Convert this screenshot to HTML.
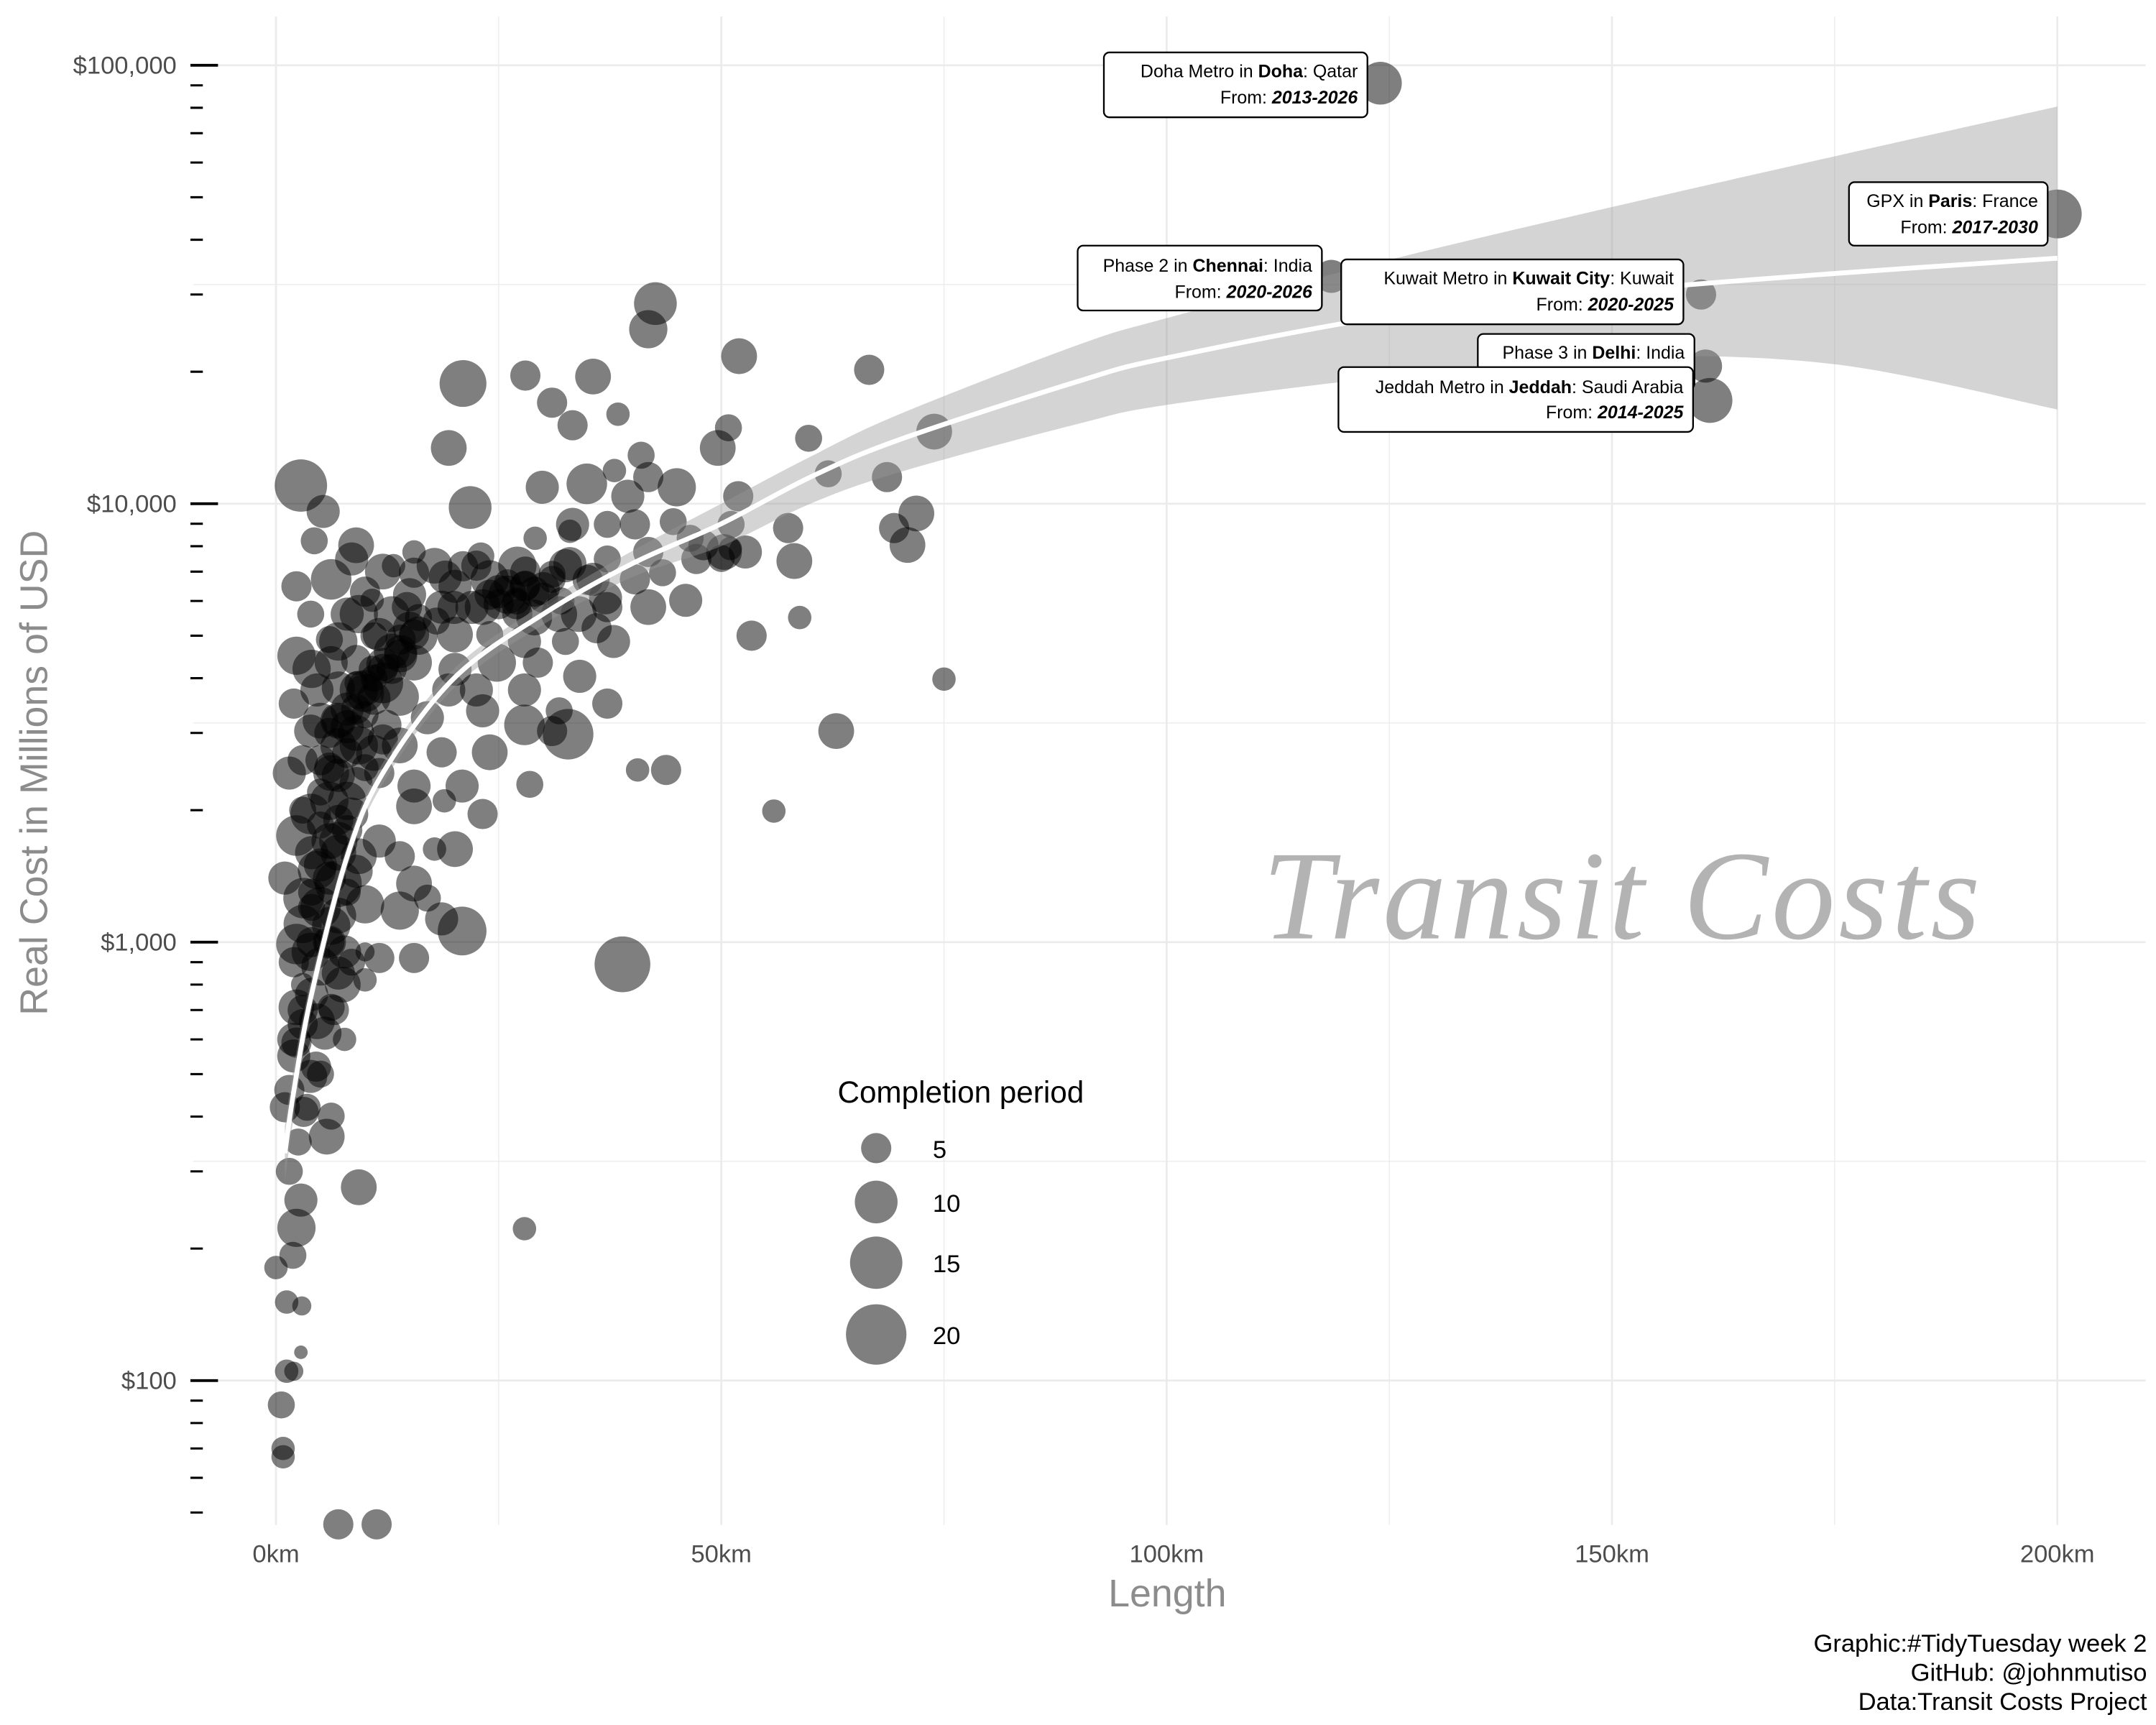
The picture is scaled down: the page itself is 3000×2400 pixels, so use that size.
<!DOCTYPE html>
<html><head><meta charset="utf-8"><style>
html,body{margin:0;padding:0;background:#fff;}
svg{display:block;font-family:"Liberation Sans",sans-serif;}
</style></head><body>
<svg id="chart" width="3000" height="2400" viewBox="0 0 1562.5 1250" xmlns="http://www.w3.org/2000/svg">
<rect width="1562.5" height="1250" fill="#fff"/>
<g id="grid"></g>
<g id="points"></g>
<g id="smooth"></g>
<g id="axes"></g>
<g id="labels">
  <g>
    <rect x="800" y="38" width="191" height="47" rx="4" fill="#fff" stroke="#000" stroke-width="1.2"/>
    <text x="984" y="56" text-anchor="end" font-size="13">Doha Metro in <tspan font-weight="bold">Doha</tspan>: Qatar</text>
    <text x="984" y="75" text-anchor="end" font-size="13">From: <tspan font-weight="bold" font-style="italic">2013-2026</tspan></text>
  </g>
  <g>
    <rect x="1340" y="132" width="144" height="46" rx="4" fill="#fff" stroke="#000" stroke-width="1.2"/>
    <text x="1477" y="150" text-anchor="end" font-size="13">GPX in <tspan font-weight="bold">Paris</tspan>: France</text>
    <text x="1477" y="169" text-anchor="end" font-size="13">From: <tspan font-weight="bold" font-style="italic">2017-2030</tspan></text>
  </g>
  <g>
    <rect x="781" y="178" width="177" height="47" rx="4" fill="#fff" stroke="#000" stroke-width="1.2"/>
    <text x="951" y="197" text-anchor="end" font-size="13">Phase 2 in <tspan font-weight="bold">Chennai</tspan>: India</text>
    <text x="951" y="216" text-anchor="end" font-size="13">From: <tspan font-weight="bold" font-style="italic">2020-2026</tspan></text>
  </g>
  <g>
    <rect x="972" y="188" width="248" height="47" rx="4" fill="#fff" stroke="#000" stroke-width="1.2"/>
    <text x="1213" y="206" text-anchor="end" font-size="13">Kuwait Metro in <tspan font-weight="bold">Kuwait City</tspan>: Kuwait</text>
    <text x="1213" y="225" text-anchor="end" font-size="13">From: <tspan font-weight="bold" font-style="italic">2020-2025</tspan></text>
  </g>
  <g>
    <rect x="1071" y="242" width="157" height="40" rx="4" fill="#fff" stroke="#000" stroke-width="1.2"/>
    <text x="1221" y="260" text-anchor="end" font-size="13">Phase 3 in <tspan font-weight="bold">Delhi</tspan>: India</text>
  </g>
  <g>
    <rect x="970" y="266" width="257" height="47" rx="4" fill="#fff" stroke="#000" stroke-width="1.2"/>
    <text x="1220" y="285" text-anchor="end" font-size="13">Jeddah Metro in <tspan font-weight="bold">Jeddah</tspan>: Saudi Arabia</text>
    <text x="1220" y="303" text-anchor="end" font-size="13">From: <tspan font-weight="bold" font-style="italic">2014-2025</tspan></text>
  </g>
</g>
<text x="1175" y="680" text-anchor="middle" font-family="'Liberation Serif',serif" font-style="italic" font-size="92" fill="#b3b3b3" textLength="520">Transit Costs</text>
<g id="legend">
  <text x="607" y="799" font-size="22" fill="#000">Completion period</text>
</g>
<text x="846" y="1164" text-anchor="middle" font-size="28" fill="#8c8c8c">Length</text>
<text x="0" y="0" transform="translate(34,560) rotate(-90)" text-anchor="middle" font-size="28" fill="#8c8c8c">Real Cost in Millions of USD</text>
<g font-size="18" fill="#000" text-anchor="end">
  <text x="1556" y="1197">Graphic:#TidyTuesday week 2</text>
  <text x="1556" y="1218">GitHub: @johnmutiso</text>
  <text x="1556" y="1239">Data:Transit Costs Project</text>
</g>
</svg>
<script>
// data: length (km), real cost (M USD), completion period (years)
const lengths = [124,200,118.5,160,160.5,161,42.6,41.8,52,66.6,21,28,35.6,31,38.4,33.3,50.8,59.8,73.9,19.4,49.6,62,68.6,2.8,5.3,21.8,29.9,34.9,45,51.9,71.9,69.4,70.9,57.5,58.2,58.8,53.4,75,62.9,55.9,40.6,43.8,38.9,27.9,32.8,28.5,20.9,9.3,0.6,0.8,0.8,1.2,2,2.8,2.9,1.2,0,1.9,7,11.3,2.3,2.8,5.7,6.2,3.1,3.9,1.5,2.3,7.7,4.6,6.2,2.3,7,3.9,10,7.7,2.3,10,6.2,15.5,11.6,18.6,13.9,17,3.1,7,10,4.6,15.5,9.3,2.3,7,11.6,13.9,20.1,17.8,3.9,8.5,15.5,23.2,18.9,1.5,6.2,11.6,15.5,20.9,9.3,3.9,13.9,18.6,24,7,12.4,17,23.2,27.9,31,4.6,9.3,13.9,19.4,22.5,27.9,31.8,37.2,6.2,10.8,15.5,20.1,24.8,29.4,34.1,2.3,7,11.6,15.5,20.1,24,27.9,32.5,37.9,3.9,9.3,14.7,18.6,23.2,27.1,31.8,37.2,41.8,46,2.3,10.8,6.2,15.5,20.1,24,27.9,31,35.6,40.3,43.4,8.5,13.2,17.8,22.5,27.1,32.5,37.2,41.8,47.2,50.3,52.7,9,15.5,37.2,40.3,44.6,29.1,33.3,48,51.1,39.5,41,38,41.8,4.3,46.5,33,50,51,26,27,28,25,29,30,
 1.5,2.5,3.5,4.5,5.5,6.5,7.5,8.5,2,3,4,5,6,7,8,9,1,2,3,4,5,6,7,8,3,4,5,6,7,8,9,10,11,12,4,5,6,7,8,9,10,11,12,13,14,5,6,7,8,9,10,11,12,13,14,15,16,6,8,10,12,14,16,18,20,3,5,7,9,11,13,15,2,4,6,8,10,12,1,3,5,7,9,2,4,6,3,5,22,24,26,28,30,32,34,36,19,21,23,25,27,29,31,33,35,37];
const costs = [91000,45800,33000,30000,20600,17200,28600,25000,21700,20200,18800,19600,19500,17000,16000,15100,14900,14100,14600,13400,13400,11700,11500,11000,9600,9800,10900,11100,10900,10400,9500,8800,8050,8800,7400,5500,5000,3980,3030,1990,2470,2470,890,222,2980,2290,1060,276,88,70,67,105,105,116,148,151,181,193,47,47,223,258,360,401,410,494,460,590,600,660,710,710,850,950,820,950,990,950,1090,920,920,1130,1180,1260,1260,1360,1220,1460,1360,1570,1750,1700,1700,1570,1630,1630,1960,1960,2040,1960,2100,2430,2430,2430,2270,2270,2810,3030,2810,2710,2710,3200,3130,3250,3370,3130,3030,3760,3760,3630,3760,3760,3760,3370,3500,4340,4190,4340,4190,4340,4340,4040,4500,4850,5030,5030,5030,5030,4850,4850,4850,5600,5600,5810,5810,5810,5600,5600,5810,5810,6020,6480,6020,6720,6960,6480,6720,6480,6720,6720,6720,6960,7480,7220,7220,7220,7220,7220,7480,7760,7480,7760,7760,8040,7760,8970,8970,9100,8340,8970,8040,8970,10400,12900,11900,11500,8230,8340,8650,7500,7900,6200,6000,6500,5900,6300,6100,
 300,350,420,520,620,700,800,900,550,650,760,880,1000,1150,1300,1450,420,600,800,1000,1200,1400,1600,1800,1100,1300,1500,1700,1900,2100,2300,2500,2700,2900,1600,1850,2100,2400,2700,3000,3300,3600,3900,4200,4500,2200,2500,2800,3100,3400,3700,4000,4300,4600,4900,5200,5500,3000,3400,3800,4200,4600,5000,5400,5800,2600,3200,3800,4400,5000,5600,6200,3500,4200,4900,5600,6300,7000,1400,2000,2600,3200,3900,900,1200,1000,700,500,5800,6200,6600,7000,6400,6000,5600,5200,6800,7200,7600,6300,5900,5500,6900,7300,6700,6100];
const periods = [10,13,6,5,6,11,10,8,7,5,12,5,7,5,3,5,4,4,7,7,7,4,5,15,6,10,6,9,8,5,7,5,7,5,7,3,5,3,7,3,3,5,17,3,14,4,13,7,4,3,3,3,2,1,2,3,3,4,5,5,8,6,7,4,5,6,5,5,3,7,4,7,6,8,3,6,9,2,8,5,5,6,8,4,9,12,8,8,7,7,9,8,6,5,7,3,9,6,7,5,3,6,7,5,6,6,8,6,7,5,7,7,5,6,6,9,5,6,8,8,6,6,6,4,5,6,4,7,6,8,5,6,8,8,6,5,7,4,6,4,6,4,8,5,6,7,5,7,5,7,6,5,3,9,5,6,8,5,4,6,5,4,6,3,7,5,8,6,4,5,5,7,6,7,3,4,5,4,3,6,5,4,6,4,3,5,4,4,3,4,3,8,4,5,5,5,5,4,4,
 4,5,6,5,7,4,6,5,6,8,5,7,4,6,5,6,3,5,9,6,7,5,8,4,6,7,5,8,6,4,7,5,6,4,8,6,5,7,4,6,9,5,6,4,5,7,6,5,8,4,6,7,5,6,4,5,6,7,5,6,8,4,6,5,7,6,5,4,7,6,5,8,4,6,5,7,6,4,5,6,3,5,4,6,5,4,6,5,4,5,6,4,7,5,6,5,4,6,5,7,4,6,5,6,4,5,4];
// smooth fit and confidence ribbon
const fitKm = [1,2,4,8,12,20,30,40,50,60,70,90,100,125,150,175,200];
const fitCost = [330,457,762,1570,2430,4000,5600,7300,9000,11500,14000,19000,21500,26800,30500,33500,36300];
const hiCost = [380,520,830,1660,2560,4200,5900,7800,10000,12800,16000,23000,26500,36000,47500,62000,80500];
const loCost = [285,400,700,1480,2300,3800,5300,6800,8000,10000,11800,15200,16800,19500,21600,20800,16400];
// axes
const xTicks = [0,50,100,150,200];
const xTickLabels = ["0km","50km","100km","150km","200km"];
const xMinor = [25,75,125,175];
const yTicks = [100,1000,10000,100000];
const yTickLabels = ["$100","$1,000","$10,000","$100,000"];
const yMinor = [316.2,3162,31623];
const legendVals = [5,10,15,20];
const legendY = [832,871,915,967];

const NS = "http://www.w3.org/2000/svg";
const X = km => 200 + km * 6.455;
const Y = c => 365 - (Math.log10(c) - 4) * 317.7;
const R = p => 4.9 * Math.sqrt(p);
const PL = 140, PR = 1555, PT = 12, PB = 1105;
function mk(tag, attrs, parent) {
  const e = document.createElementNS(NS, tag);
  for (const k in attrs) e.setAttribute(k, attrs[k]);
  parent.appendChild(e);
  return e;
}
function smoothPath(p, start) {
  let d = (start ? 'M' : 'L') + p[0][0] + ',' + p[0][1];
  for (let i = 0; i < p.length - 1; i++) {
    const p0 = p[Math.max(0, i - 1)], p1 = p[i], p2 = p[i + 1], p3 = p[Math.min(p.length - 1, i + 2)];
    const c1x = p1[0] + (p2[0] - p0[0]) / 6, c1y = p1[1] + (p2[1] - p0[1]) / 6;
    const c2x = p2[0] - (p3[0] - p1[0]) / 6, c2y = p2[1] - (p3[1] - p1[1]) / 6;
    d += 'C' + c1x + ',' + c1y + ' ' + c2x + ',' + c2y + ' ' + p2[0] + ',' + p2[1];
  }
  return d;
}
const grid = document.getElementById('grid');
xMinor.forEach(v => { const l = mk('line', {x1:X(v),x2:X(v),y1:PT,y2:PB,stroke:'#ebebeb','stroke-width':0.7}, grid);
  
   });
yMinor.forEach(v => { const l = mk('line', {x1:PL,x2:PR,y1:Y(v),y2:Y(v),stroke:'#ebebeb','stroke-width':0.7}, grid);
  
   });
xTicks.forEach(v => { const l = mk('line', {x1:X(v),x2:X(v),y1:PT,y2:PB,stroke:'#ebebeb','stroke-width':1.4}, grid);
  
   });
yTicks.forEach(v => { const l = mk('line', {x1:PL,x2:PR,y1:Y(v),y2:Y(v),stroke:'#ebebeb','stroke-width':1.4}, grid);
  
   });

const pts = document.getElementById('points');
for (let i = 0; i < lengths.length; i++) {
  const c = mk('circle', {cx:X(lengths[i]), cy:Y(costs[i]), r:R(periods[i]), fill:'#000', 'fill-opacity':0.5}, pts);
  
  
}

const sm = document.getElementById('smooth');
const hiPts = fitKm.map((k, i) => [X(k), Y(hiCost[i])]);
const loPts = fitKm.map((k, i) => [X(k), Y(loCost[i])]).reverse();
const rib = mk('path', {d: smoothPath(hiPts, true) + smoothPath(loPts, false) + 'Z', fill:'#999', 'fill-opacity':0.42}, sm);


const fitPts = fitKm.map((k, i) => [X(k), Y(fitCost[i])]);
const fl = mk('path', {d: smoothPath(fitPts, true), fill:'none', stroke:'#fff', 'stroke-width':3.5, 'stroke-linejoin':'round'}, sm);



const ax = document.getElementById('axes');
xTicks.forEach((v, i) => { const t = mk('text', {x:X(v), y:1132, 'text-anchor':'middle', 'font-size':18, fill:'#4d4d4d'}, ax);
  t.textContent = xTickLabels[i];
  
   });
yTicks.forEach((v, i) => { const t = mk('text', {x:128, y:Y(v)+6, 'text-anchor':'end', 'font-size':18, fill:'#4d4d4d'}, ax);
  t.textContent = yTickLabels[i];
  
  
  const l = mk('line', {x1:138, x2:158, y1:Y(v), y2:Y(v), stroke:'#000', 'stroke-width':2}, ax);
  
   });
[10,100,1000,10000].forEach(dec => { for (let m = 2; m <= 9; m++) { const v = dec * m;
  if (v < 50) continue;
  const l = mk('line', {x1:138, x2:147, y1:Y(v), y2:Y(v), stroke:'#000', 'stroke-width':1.6}, ax);
  
   } });

const lg = document.getElementById('legend');
legendVals.forEach((v, i) => {
  const c = mk('circle', {cx:635, cy:legendY[i], r:R(v), fill:'#000', 'fill-opacity':0.5}, lg);
  
  
  const t = mk('text', {x:676, y:legendY[i]+7, 'font-size':18, fill:'#000'}, lg);
  t.textContent = v;
  
  
});
</script>
</body></html>
